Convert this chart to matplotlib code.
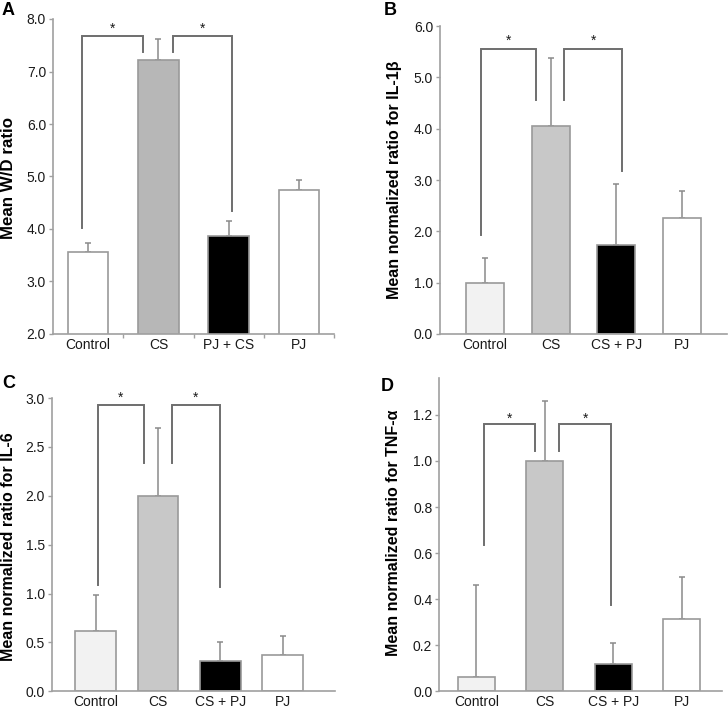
import matplotlib
matplotlib.use("Agg")
import matplotlib.pyplot as plt
from matplotlib.ticker import FormatStrFormatter

plt.rcParams['font.family'] = ['Liberation Sans', 'DejaVu Sans']

# ---------------- data ----------------
categories_A = ["Control", "CS", "PJ + CS", "PJ"]
categories_BCD = ["Control", "CS", "CS + PJ", "PJ"]

wd_mean = [3.56, 7.21, 3.87, 4.74]
wd_err = [0.17, 0.40, 0.29, 0.19]

il1b_mean = [1.00, 4.05, 1.73, 2.26]
il1b_err = [0.48, 1.33, 1.20, 0.53]

il6_mean = [0.62, 2.00, 0.31, 0.37]
il6_err = [0.365, 0.69, 0.19, 0.20]

tnf_mean = [0.061, 1.00, 0.119, 0.314]
tnf_err = [0.40, 0.26, 0.09, 0.183]

ylabels = ["Mean W/D ratio", "Mean normalized ratio for IL-1\u03b2",
           "Mean normalized ratio for IL-6", "Mean normalized ratio for TNF-\u03b1"]
panel_letters = ["A", "B", "C", "D"]

# ---------------- styling ----------------
W, H = 728, 708
fig = plt.figure(figsize=(W / 100, H / 100), dpi=100)

def box(l, r, t, b):
    return [l / W, 1 - b / H, (r - l) / W, (b - t) / H]

EDGE = "#9a9a9a"
SPINE = "#a0a0a0"
ERR = "#8a8a8a"
BRK = "#6e6e6e"
TXT = "#1a1a1a"

colors_A = ["white", "#b7b7b7", "black", "white"]
colors_BCD = ["#f2f2f2", "#c8c8c8", "black", "white"]

panels = [
    dict(rect=box(53, 334, 19, 334), cats=categories_A, mean=wd_mean, err=wd_err,
         colors=colors_A, ylim=(2, 8), yticks=[2, 3, 4, 5, 6, 7, 8], xlim=(-0.5, 3.5),
         width=0.58, boundary_ticks=True,
         brackets=[(-0.09, 4.02, 0.78, 7.37, 7.67), (1.21, 7.37, 2.05, 4.35, 7.67)],
         star_y=7.82, label_xy=(-0.132, 0.495), label_size=12.2, letter=(2, 2)),
    dict(rect=box(440, 727, 26, 334), cats=categories_BCD, mean=il1b_mean, err=il1b_err,
         colors=colors_BCD, ylim=(0, 6), yticks=[0, 1, 2, 3, 4, 5, 6], xlim=(-0.69, 3.69),
         width=0.58, boundary_ticks=False,
         brackets=[(-0.06, 1.93, 0.77, 4.56, 5.56), (1.21, 4.56, 2.09, 3.18, 5.56)],
         star_y=5.72, label_xy=(-0.134, 0.50), label_size=11.5, letter=(384, 2)),
    dict(rect=box(52, 335, 398, 691.3), cats=categories_BCD, mean=il6_mean, err=il6_err,
         colors=colors_BCD, ylim=(0, 3), yticks=[0, 0.5, 1.0, 1.5, 2.0, 2.5, 3.0],
         xlim=(-0.70, 3.84), width=0.65, boundary_ticks=False,
         brackets=[(0.03, 1.09, 0.77, 2.34, 2.93), (1.23, 2.34, 1.99, 1.07, 2.93)],
         star_y=3.00, label_xy=(-0.128, 0.494), label_size=11.5, letter=(2, 375)),
    dict(rect=box(439.3, 721.7, 378, 691.3), cats=categories_BCD, mean=tnf_mean, err=tnf_err,
         colors=colors_BCD, ylim=(0, 1.36), yticks=[0, 0.2, 0.4, 0.6, 0.8, 1.0, 1.2],
         xlim=(-0.54, 3.58), width=0.54, boundary_ticks=False,
         brackets=[(0.11, 0.637, 0.86, 1.045, 1.161), (1.21, 1.045, 1.97, 0.376, 1.161)],
         star_y=1.185, label_xy=(-0.136, 0.505), label_size=11.5, letter=(381, 378)),
]

for i, p in enumerate(panels):
    ax = fig.add_axes(p["rect"])
    x = list(range(len(p["cats"])))
    ax.bar(x, p["mean"], width=p["width"], color=p["colors"], edgecolor=EDGE,
           linewidth=1.2, zorder=2)
    ax.errorbar(x, p["mean"], yerr=[[0] * 4, p["err"]], fmt="none", ecolor=ERR,
                elinewidth=1.1, capsize=2.5, capthick=1.1, zorder=1)
    ax.set_xlim(*p["xlim"])
    ax.set_ylim(*p["ylim"])
    ax.set_yticks(p["yticks"])
    ax.yaxis.set_major_formatter(FormatStrFormatter("%.1f"))
    ax.set_xticks(x)
    ax.set_xticklabels(p["cats"])
    ax.tick_params(axis="x", length=0, labelsize=10, labelcolor=TXT, pad=3)
    if p["boundary_ticks"]:
        ax.set_xticks([0.5, 1.5, 2.5, 3.5], minor=True)
        ax.tick_params(axis="x", which="minor", length=3, color=SPINE, width=1)
    ax.tick_params(axis="y", length=3, color=SPINE, width=1, labelsize=10,
                   labelcolor=TXT, pad=2)
    for s in ["top", "right"]:
        ax.spines[s].set_visible(False)
    for s in ["left", "bottom"]:
        ax.spines[s].set_color(SPINE)
        ax.spines[s].set_linewidth(1.2)
    ax.set_ylabel(ylabels[i], fontsize=p["label_size"], fontweight="bold", color="black")
    ax.yaxis.set_label_coords(*p["label_xy"])
    # significance brackets
    for (xl, yl, xr, yr, yt) in p["brackets"]:
        ax.plot([xl, xl, xr, xr], [yl, yt, yt, yr], color=BRK, lw=1.4,
                solid_joinstyle="miter", zorder=3, clip_on=False)
        ax.text((xl + xr) / 2, p["star_y"], "*", ha="center", va="center",
                fontsize=10, color=TXT)
    fig.text(p["letter"][0] / W, 1 - p["letter"][1] / H, panel_letters[i],
             fontsize=13, fontweight="bold", ha="left", va="top")

fig.savefig("out.png", dpi=100)
